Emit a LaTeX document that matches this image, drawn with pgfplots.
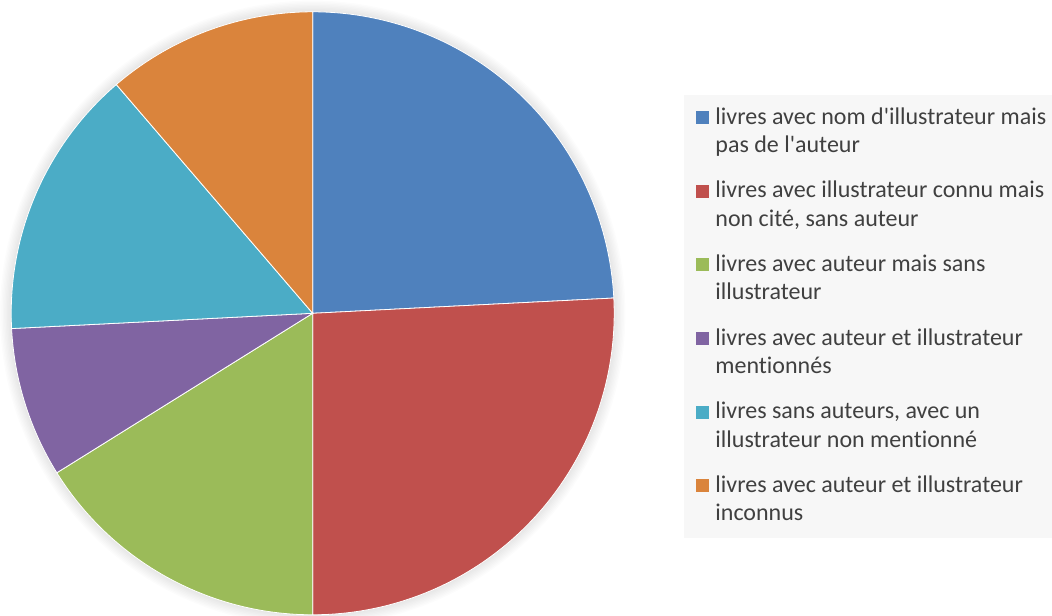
\documentclass[border=0pt]{standalone}
\usepackage{pgfplots}
\pgfplotsset{compat=1.18}
\usepackage{fontspec}
\setmainfont{Carlito}[Ligatures={TeXOff,CommonOff}]
\definecolor{cA}{HTML}{4F81BD}
\definecolor{cB}{HTML}{C0504D}
\definecolor{cC}{HTML}{9BBB59}
\definecolor{cD}{HTML}{8064A2}
\definecolor{cE}{HTML}{4BACC6}
\definecolor{cF}{HTML}{DA843C}
\definecolor{legbg}{HTML}{F7F7F7}
\definecolor{txt}{HTML}{404040}
% data (counts)
\def\vA{30}\def\vB{32}\def\vC{20}\def\vD{10}\def\vE{18}\def\vF{14}
\def\tot{124}
% geometry (pixel units)
\def\cx{312.7}\def\cy{301.7}\def\R{301.5}
\newcommand\slice[3]{%
  \addplot[fill=#3, draw=white, line width=0.4pt, domain=0:1, samples=90]
    ({\cx + \R*cos(90-360*(#1+#2*x)/\tot)}, {\cy + \R*sin(90-360*(#1+#2*x)/\tot)})
    -- (\cx,\cy) -- cycle;
}
\begin{document}
\begin{tikzpicture}
\useasboundingbox (0,0) rectangle (526pt,307.5pt);
\begin{axis}[
  width=526pt, height=307.5pt, scale only axis,
  xmin=0, xmax=1052, ymin=0, ymax=615,
  hide axis, clip=false,
  legend image code/.code={\fill[#1, draw=none] (0pt,14.2pt) rectangle (6.5pt,20.7pt);},
  legend style={at={(0.6502,0.8455)}, anchor=north west, draw=none, fill=legbg,
    inner xsep=6pt, inner ysep=4.5pt, row sep=8.4pt, column sep=3pt,
    font=\fontsize{12}{14.2}\selectfont, text=txt,
    nodes={inner sep=0pt, text depth=}, cells={anchor=base west, align=left}},
]
\pgfplotsinvokeforeach{1,...,8}{%
  \fill[black, opacity=0.012] (axis cs:\cx,\cy) circle[radius={150.75pt+#1*0.7pt}];
}
\slice{0}{\vA}{cA}
\addlegendentry{\strut livres avec nom d'illustrateur mais\\\strut pas de l'auteur}
\slice{30}{\vB}{cB}
\addlegendentry{\strut livres avec illustrateur connu mais\\\strut non cité, sans auteur}
\slice{62}{\vC}{cC}
\addlegendentry{\strut livres avec auteur mais sans\\\strut illustrateur}
\slice{82}{\vD}{cD}
\addlegendentry{\strut livres avec auteur et illustrateur\\\strut mentionnés}
\slice{92}{\vE}{cE}
\addlegendentry{\strut livres sans auteurs, avec un\\\strut illustrateur non mentionné}
\slice{110}{\vF}{cF}
\addlegendentry{\strut livres avec auteur et illustrateur\\\strut inconnus}
\end{axis}
\end{tikzpicture}
\end{document}
